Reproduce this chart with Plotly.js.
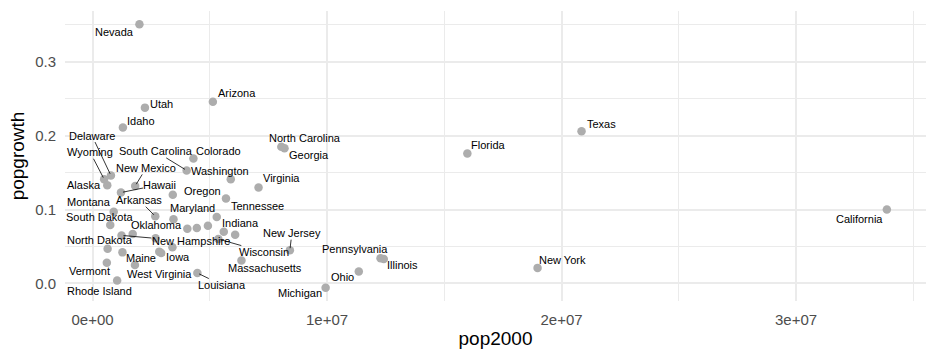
<!DOCTYPE html>
<html>
<head>
<meta charset="utf-8">
<script src="https://cdn.plot.ly/plotly-3.0.1.min.js"></script>
<style>html,body{margin:0;padding:0;background:#fff;}#chart{width:936px;height:360px;}</style>
</head>
<body>
<div id="chart"></div>
<script>
const states = ["Alabama","Alaska","Arizona","Arkansas","California","Colorado","Connecticut","Delaware","Florida","Georgia","Hawaii","Idaho","Illinois","Indiana","Iowa","Kansas","Kentucky","Louisiana","Maine","Maryland","Massachusetts","Michigan","Minnesota","Mississippi","Missouri","Montana","Nebraska","Nevada","New Hampshire","New Jersey","New Mexico","New York","North Carolina","North Dakota","Ohio","Oklahoma","Oregon","Pennsylvania","Rhode Island","South Carolina","South Dakota","Tennessee","Texas","Utah","Vermont","Virginia","Washington","West Virginia","Wisconsin","Wyoming"];
const pop2000 = [4447100,626932,5130632,2673400,33871648,4301261,3405565,783600,15982378,8186453,1211537,1293953,12419293,6080485,2926324,2688418,4041769,4468976,1274923,5296486,6349097,9938444,4919479,2844658,5595211,902195,1711263,1998257,1235786,8414350,1819046,18976457,8049313,642200,11353140,3450654,3421399,12281054,1048319,4012012,754844,5689283,20851820,2233169,608827,7078515,5894121,1808344,5363675,493782];
const popgrowth = [0.075,0.133,0.246,0.091,0.100,0.169,0.049,0.146,0.176,0.183,0.123,0.211,0.033,0.066,0.041,0.061,0.074,0.014,0.042,0.090,0.031,-0.006,0.078,0.043,0.070,0.097,0.067,0.351,0.065,0.045,0.132,0.021,0.185,0.047,0.016,0.087,0.120,0.034,0.004,0.153,0.079,0.115,0.206,0.238,0.028,0.130,0.141,0.025,0.060,0.141];
const xTickVals = [0,1e7,2e7,3e7];
const xTickText = ["0e+00","1e+07","2e+07","3e+07"];

// label placement (pixel offsets of label centre from point, segment flag)
const labelPlacement = {
  "Nevada":[-25,8,0],"Arizona":[24,-9,0],"Utah":[17,-4,0],"Idaho":[18,-7,0],
  "Delaware":[-19,-40,1],"Wyoming":[-14,-27,1],"Alaska":[-23,0,0],"Montana":[-25,-10,0],
  "South Dakota":[-10,-8,0],"North Dakota":[-8,-9,0],"Vermont":[-17,8,0],"Rhode Island":[-18,11,0],
  "South Carolina":[-31,-19,1],"New Mexico":[11,-18,1],"Hawaii":[39,-8,1],"Arkansas":[-16,-16,1],
  "Colorado":[25,-8,0],"Washington":[-11,-8,0],"Oregon":[30,-4,0],"Maryland":[-24,-9,0],
  "Oklahoma":[-17,6,0],"New Hampshire":[69,6,1],"Iowa":[17,4,0],"Maine":[19,6,0],
  "West Virginia":[25,9,0],"Louisiana":[25,12,1],"Indiana":[5,-12,0],"Tennessee":[32,8,0],
  "Virginia":[23,-9,0],"North Carolina":[24,-9,0],"Georgia":[24,7,0],"Wisconsin":[46,13,1],
  "Massachusetts":[24,8,0],"New Jersey":[2,-17,1],"Pennsylvania":[-26,-9,0],"Illinois":[19,6,0],
  "Ohio":[-16,5,0],"Michigan":[-26,5,0],"New York":[25,-8,0],"Florida":[21,-8,0],
  "Texas":[20,-7,0],"California":[-27,9,0]
};

const xmin = Math.min(...pop2000), xmax = Math.max(...pop2000);
const ymin = Math.min(...popgrowth), ymax = Math.max(...popgrowth);
const xr = [xmin-(xmax-xmin)*0.05, xmax+(xmax-xmin)*0.05];
const yr = [ymin-(ymax-ymin)*0.05, ymax+(ymax-ymin)*0.05];

const annotations = [];
states.forEach((s,i)=>{
  const p = labelPlacement[s];
  if(!p) return;
  annotations.push({
    x: pop2000[i], y: popgrowth[i], xref:'x', yref:'y', text: s,
    showarrow: true, ax: p[0], ay: p[1], axref:'pixel', ayref:'pixel',
    arrowhead: 0, arrowwidth: 0.8, standoff: 2,
    arrowcolor: p[2] ? '#000000' : 'rgba(0,0,0,0)',
    font: {family:'Liberation Sans, Arial, sans-serif', size: 11, color:'#000000'},
    borderpad: 0
  });
});

const grid = '#EBEBEB';
const layout = {
  width: 936, height: 360,
  margin: {l:65, r:10, t:11, b:59},
  paper_bgcolor:'#ffffff', plot_bgcolor:'#ffffff',
  showlegend:false,
  font:{family:'Liberation Sans, Arial, sans-serif'},
  xaxis:{
    range: xr, tickmode:'array', tickvals: xTickVals, ticktext: xTickText,
    showgrid:true, gridcolor:grid, gridwidth:2, zeroline:false, showline:false, ticks:'',
    tickfont:{size:15, color:'#4D4D4D'}, ticklabelstandoff: 8,
    minor:{tickmode:'array', tickvals:[5e6,1.5e7,2.5e7,3.5e7], showgrid:true, gridcolor:grid, gridwidth:1},
    title:{text:'pop2000', font:{size:19, color:'#000000'}, standoff: 4}
  },
  yaxis:{
    range: yr, tick0:0, dtick:0.1, tickformat:'.1f',
    showgrid:true, gridcolor:grid, gridwidth:2, zeroline:false, showline:false, ticks:'',
    tickfont:{size:15, color:'#4D4D4D'}, ticklabelstandoff: 8,
    minor:{tick0:0, dtick:0.05, showgrid:true, gridcolor:grid, gridwidth:1},
    title:{text:'popgrowth', font:{size:19, color:'#000000'}, standoff: 5}
  },
  annotations: annotations
};

Plotly.newPlot('chart', [{
  type:'scatter', mode:'markers', x: pop2000, y: popgrowth, text: states,
  marker:{size:8.5, color:'#ADADAD'}, hoverinfo:'text'
}], layout, {displayModeBar:false, staticPlot:true});
</script>
</body>
</html>
